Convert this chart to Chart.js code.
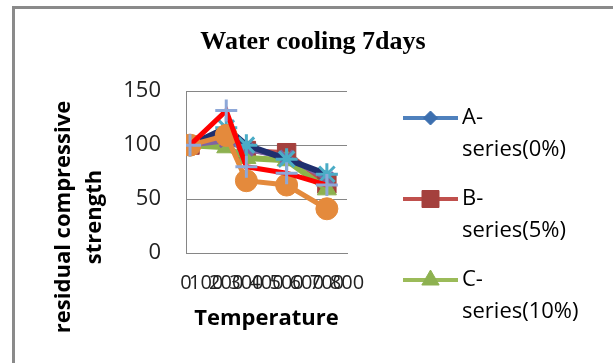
<!DOCTYPE html>
<html>
<head>
<meta charset="utf-8">
<script src="https://cdn.jsdelivr.net/npm/chart.js@4/dist/chart.umd.min.js"></script>
<style>
  body { margin: 0; background: #fff; }
  #wrap { position: relative; width: 613px; height: 363px; overflow: hidden; }
  #frame { position: absolute; left: 12px; top: 6px; width: 700px; height: 450px;
           border-left: 3px solid #8a8a8a; border-top: 3px solid #8a8a8a; }
  #chart { position: absolute; left: 0; top: 0; }
</style>
</head>
<body>
<div id="wrap">
  <div id="frame"></div>
  <canvas id="chart" width="613" height="363"></canvas>
</div>
<script>
// temperatures (x) and residual strength per mix
const temperatures = [20, 200, 300, 500, 700];
const seriesNames = ['A-series(0%)', 'B-series(5%)', 'C-series(10%)', 'D-series(15%)', 'E-series(20%)', 'F-series(25%)', 'G-series(30%)'];
const seriesA = [100, 105, 97, 88, 69];
const seriesB = [100, 107, 95, 93, 64];
const seriesC = [100, 98, 88, 86, 59];
const seriesD = [100, 104, 96, 89, 69];
const seriesE = [100, 116, 100, 87, 73];
const seriesF = [100, 109, 67, 63, 41];
const seriesG = [100, 132, 80, 74, 63];
const allSeries = [seriesA, seriesB, seriesC, seriesD, seriesE, seriesF, seriesG];
const yTitleLines = ['residual compressive', 'strength'];

// look of each series (Excel 2007 style)
const looks = [
  { line: '#4F81BD', width: 5, style: 'rectRot', r: 8, fill: '#3C6FAF', stroke: '#3C6FAF', bw: 1 },
  { line: '#C0504D', width: 5, style: 'rect', r: 13, fill: '#A4403D', stroke: '#A4403D', bw: 1 },
  { line: '#8DB44A', width: 6, style: 'triangle', r: 11, fill: '#8DB150', stroke: '#8DB150', bw: 1 },
  { line: '#8064A2', width: 5, style: 'crossRot', r: 9, fill: '#7F63A1', stroke: '#7F63A1', bw: 3 },
  { line: '#1F2F6E', width: 6, style: 'star', r: 11, fill: '#4BACC6', stroke: '#4BACC6', bw: 3 },
  { line: '#E48A3C', width: 5, style: 'circle', r: 11, fill: '#E48A3C', stroke: '#E48A3C', bw: 1 },
  { line: '#FF0000', width: 5, style: 'cross', r: 11, fill: '#8EA8D8', stroke: '#8EA8D8', bw: 3 }
];
const legendLooks = [
  { line: '#4F81BD', style: 'rectRot', r: 7, fill: '#3C6FAF' },
  { line: '#C0504D', style: 'rect', r: 12, fill: '#A4403D' },
  { line: '#9BBB59', style: 'triangle', r: 10, fill: '#8DB150' }
];

const datasets = allSeries.map((vals, i) => ({
  label: seriesNames[i],
  data: vals.map((v, j) => ({ x: temperatures[j], y: v })),
  borderColor: looks[i].line,
  borderWidth: looks[i].width,
  pointStyle: looks[i].style,
  pointRadius: looks[i].r,
  pointBackgroundColor: looks[i].fill,
  pointBorderColor: looks[i].stroke,
  pointBorderWidth: looks[i].bw,
  tension: 0,
  order: -i
}));

const sans = '"Open Sans", "Liberation Sans", sans-serif';

// y title sits lower than the plot centre, and the legend wraps its text: draw both here
const excelBits = {
  id: 'excelBits',
  afterDraw(chart) {
    const ctx = chart.ctx;
    const area = chart.chartArea;
    ctx.save();
    ctx.fillStyle = '#000';
    ctx.font = 'bold 22px ' + sans;
    ctx.textAlign = 'center';
    ctx.textBaseline = 'middle';
    yTitleLines.forEach((t, i) => {
      ctx.save();
      ctx.translate(64 + i * 31, 217);
      ctx.rotate(-Math.PI / 2);
      ctx.fillText(t, 0, 0);
      ctx.restore();
    });

    // Excel legend box only has room for the first three entries
    ctx.font = '22px ' + sans;
    ctx.textAlign = 'left';
    legendLooks.forEach((lk, i) => {
      const y = 118 + i * 81;
      const x0 = area.right + 56, x1 = area.right + 111;
      ctx.strokeStyle = lk.line;
      ctx.lineWidth = 4;
      ctx.beginPath();
      ctx.moveTo(x0, y);
      ctx.lineTo(x1, y);
      ctx.stroke();
      ctx.fillStyle = lk.fill;
      ctx.strokeStyle = lk.fill;
      ctx.lineWidth = 1;
      Chart.helpers.drawPoint(ctx, { pointStyle: lk.style, radius: lk.r, borderWidth: 1, rotation: 0 }, (x0 + x1) / 2, y);
      const name = seriesNames[i];
      const cut = name.indexOf('-') + 1;
      ctx.fillStyle = '#000';
      ctx.fillText(name.slice(0, cut), x1 + 4, y);
      ctx.fillText(name.slice(cut), x1 + 4, y + 32);
    });
    ctx.restore();
  }
};

new Chart(document.getElementById('chart'), {
  type: 'line',
  data: { datasets: datasets },
  options: {
    responsive: false,
    animation: false,
    devicePixelRatio: 1,
    layout: { padding: { left: 13, right: 0, top: 0, bottom: 0 } },
    plugins: {
      legend: { display: false },
      tooltip: { enabled: false },
      title: {
        display: true,
        text: 'Water cooling 7days',
        color: '#000',
        font: { family: '"Liberation Serif", "Times New Roman", serif', size: 26, weight: 'bold' },
        padding: { top: 27, bottom: 33 }
      }
    },
    scales: {
      x: {
        type: 'linear',
        min: 0,
        max: 800,
        ticks: { stepSize: 100, autoSkip: false, maxRotation: 0, minRotation: 0, padding: 10,
                 color: '#222', font: { family: sans, size: 20 } },
        grid: { display: false },
        border: { color: '#868686', width: 1 },
        title: { display: true, text: 'Temperature', color: '#000',
                 font: { family: sans, size: 22, weight: 'bold' }, padding: { top: 0, bottom: 31 } },
        afterFit: s => { s.height = 110; }
      },
      y: {
        min: 0,
        max: 150,
        ticks: { stepSize: 50, padding: 25, color: '#222', font: { family: sans, size: 22 } },
        grid: { color: '#868686', drawTicks: false },
        border: { color: '#868686', width: 1 },
        afterFit: s => { s.width = 173; }
      },
      side: {
        position: 'right',
        ticks: { display: false },
        grid: { display: false },
        border: { display: false },
        afterFit: s => { s.width = 266; }
      }
    }
  },
  plugins: [excelBits]
});
</script>
</body>
</html>
